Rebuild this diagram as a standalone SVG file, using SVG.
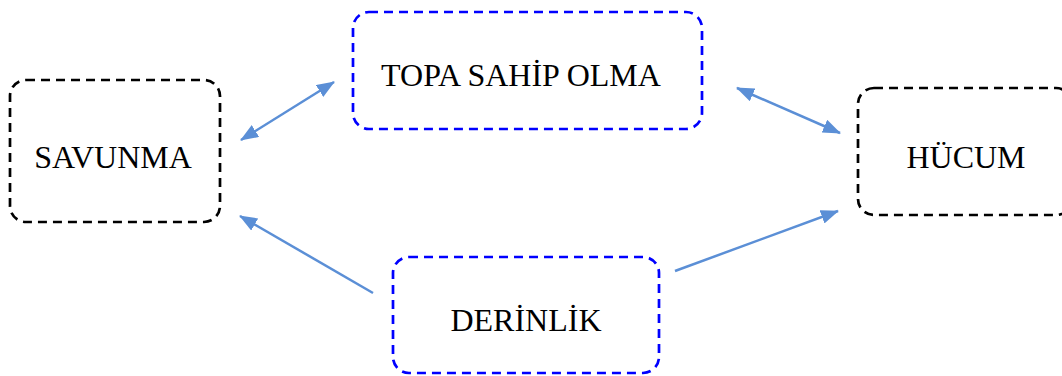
<svg xmlns="http://www.w3.org/2000/svg" width="1062" height="376" viewBox="0 0 1062 376">
<style>
.box{fill:none;stroke-width:2.7;stroke-dasharray:9 6}
.blk{stroke:#000}
.blu{stroke:#0000ff}
.lbl{font-family:"Liberation Serif","Times New Roman",serif;font-size:32px;fill:#000;text-anchor:middle}
.arr{stroke:#5b8fd6;stroke-width:2.5;fill:none}
</style>
<defs>
<marker id="ah" markerUnits="userSpaceOnUse" markerWidth="18" markerHeight="14" refX="17" refY="7" orient="auto-start-reverse">
<path d="M0,0 L18,7 L0,14 z" fill="#5b8fd6"/>
</marker>
</defs>
<rect width="1062" height="376" fill="#fff"/>
<g id="savunma">
<rect class="box blk" x="10" y="80" width="210" height="142" rx="16"/>
<text class="lbl" x="113" y="168">SAVUNMA</text>
</g>
<g id="topa">
<rect class="box blu" x="353" y="12" width="349" height="117" rx="16"/>
<text class="lbl" x="521" y="86">TOPA SAHİP OLMA</text>
</g>
<g id="hucum">
<rect class="box blk" x="858" y="88" width="214" height="127" rx="16"/>
<text class="lbl" x="966" y="168">HÜCUM</text>
</g>
<g id="derinlik">
<rect class="box blu" x="393" y="257" width="266" height="116" rx="16"/>
<text class="lbl" x="526" y="331">DERİNLİK</text>
</g>
<g id="connectors">
<line class="arr" x1="241" y1="140" x2="334" y2="82" marker-start="url(#ah)" marker-end="url(#ah)"/>
<line class="arr" x1="737" y1="88" x2="840" y2="133" marker-start="url(#ah)" marker-end="url(#ah)"/>
<line class="arr" x1="373" y1="293" x2="240" y2="216" marker-end="url(#ah)"/>
<line class="arr" x1="675" y1="271" x2="838" y2="211" marker-end="url(#ah)"/>
</g>
</svg>
